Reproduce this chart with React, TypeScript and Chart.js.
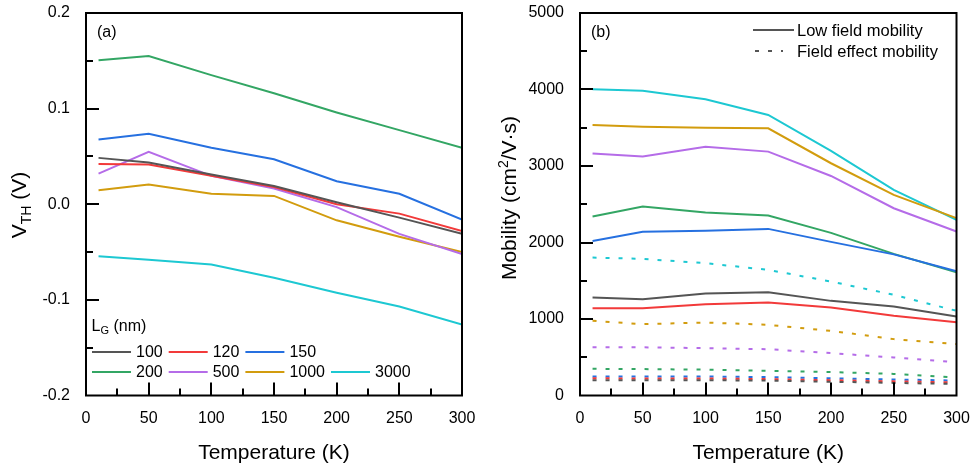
import React, { useEffect, useRef } from "react";
import { Chart, registerables } from "chart.js";

Chart.register(...registerables);

// ---------- data ----------
const temps = [10, 50, 100, 150, 200, 250, 300];
const gateLengths = ["100", "120", "150", "200", "500", "1000", "3000"];
const seriesColors = ["#555555", "#F23A3A", "#2670E0", "#33A664", "#B56CE8", "#D29C0E", "#1DC8D2"];

const vth100 = [0.0485, 0.0437, 0.031, 0.019, 0.002, -0.014, -0.031];
const vth120 = [0.042, 0.0415, 0.0297, 0.018, 0.0, -0.0098, -0.028];
const vth150 = [0.0677, 0.0736, 0.059, 0.047, 0.024, 0.011, -0.016];
const vth200 = [0.1505, 0.155, 0.135, 0.116, 0.096, 0.0775, 0.059];
const vth500 = [0.032, 0.0548, 0.0297, 0.0164, -0.003, -0.031, -0.052];
const vth1000 = [0.0147, 0.0206, 0.011, 0.0087, -0.0168, -0.034, -0.05];
const vth3000 = [-0.0545, -0.058, -0.063, -0.0768, -0.0925, -0.107, -0.1257];

const lowField100 = [1281, 1259, 1333, 1351, 1237, 1163, 1032];
const lowField120 = [1142, 1142, 1194, 1215, 1150, 1041, 959];
const lowField150 = [2021, 2139, 2152, 2178, 2008, 1845, 1625];
const lowField200 = [2339, 2469, 2391, 2352, 2126, 1851, 1612];
const lowField500 = [3162, 3123, 3253, 3188, 2870, 2448, 2143];
const lowField1000 = [3537, 3514, 3501, 3493, 3036, 2622, 2318];
const lowField3000 = [4003, 3985, 3872, 3667, 3197, 2687, 2296];

const fieldEff100 = [200, 200, 200, 195, 180, 165, 150];
const fieldEff120 = [225, 222, 222, 215, 200, 185, 172];
const fieldEff150 = [250, 248, 248, 240, 225, 210, 195];
const fieldEff200 = [349, 345, 338, 323, 306, 282, 235];
const fieldEff500 = [632, 630, 619, 605, 554, 497, 436];
const fieldEff1000 = [976, 933, 954, 924, 845, 737, 672];
const fieldEff3000 = [1803, 1786, 1730, 1642, 1490, 1316, 1107];

const xTickLabels = ["0", "50", "100", "150", "200", "250", "300"];
const vthTickLabels = ["-0.2", "-0.1", "0.0", "0.1", "0.2"];
const mobilityTickLabels = ["0", "1000", "2000", "3000", "4000", "5000"];

const vthSeries = [vth100, vth120, vth150, vth200, vth500, vth1000, vth3000];
const lowFieldSeries = [lowField100, lowField120, lowField150, lowField200, lowField500, lowField1000, lowField3000];
const fieldEffSeries = [fieldEff100, fieldEff120, fieldEff150, fieldEff200, fieldEff500, fieldEff1000, fieldEff3000];

const FONT = '"Liberation Sans", Arial, sans-serif';

type Part = { t: string; size: number; dy?: number };

function drawParts(ctx: CanvasRenderingContext2D, parts: Part[], x: number, y: number, align: "left" | "center") {
  let total = 0;
  for (const p of parts) {
    ctx.font = `${p.size}px ${FONT}`;
    total += ctx.measureText(p.t).width;
  }
  let cx = align === "center" ? x - total / 2 : x;
  ctx.textAlign = "left";
  for (const p of parts) {
    ctx.font = `${p.size}px ${FONT}`;
    ctx.fillText(p.t, cx, y + (p.dy || 0));
    cx += ctx.measureText(p.t).width;
  }
}

type PanelCfg = {
  xMajor: number;
  xMinor: number;
  yMin: number;
  yMax: number;
  yMajor: number;
  yMinor: number;
  yTickLabels: string[];
  yTitle: Part[];
  yTitleCenter: number;
  panelLabel: string;
  legend: "a" | "b";
};

function makePlugin(cfg: PanelCfg) {
  return {
    id: "decor" + cfg.panelLabel,
    afterDraw(chart: any) {
      const ctx: CanvasRenderingContext2D = chart.ctx;
      const a = chart.chartArea;
      const xs = chart.scales.x;
      const ys = chart.scales.y;
      ctx.save();
      ctx.strokeStyle = "#000";
      ctx.fillStyle = "#000";
      ctx.lineWidth = 2;
      // ticks x
      for (let v = 0; v <= 300 + 1e-9; v += cfg.xMinor) {
        const px = Math.round(xs.getPixelForValue(v));
        if (Math.abs(px - a.left) < 2 || Math.abs(px - a.right) < 2) continue;
        const major = Math.abs(v / cfg.xMajor - Math.round(v / cfg.xMajor)) < 1e-6;
        const len = major ? 13 : 7;
        ctx.beginPath();
        ctx.moveTo(px, a.bottom);
        ctx.lineTo(px, a.bottom - len);
        ctx.stroke();
      }
      // ticks y
      const nMinor = Math.round((cfg.yMax - cfg.yMin) / cfg.yMinor);
      for (let i = 0; i <= nMinor; i++) {
        const v = cfg.yMin + i * cfg.yMinor;
        const py = Math.round(ys.getPixelForValue(v));
        if (Math.abs(py - a.top) < 2 || Math.abs(py - a.bottom) < 2) continue;
        const major = i % Math.round(cfg.yMajor / cfg.yMinor) === 0;
        const len = major ? 13 : 7;
        ctx.beginPath();
        ctx.moveTo(a.left, py);
        ctx.lineTo(a.left + len, py);
        ctx.stroke();
      }
      // box
      ctx.strokeRect(a.left, a.top, a.right - a.left, a.bottom - a.top);

      // tick labels
      ctx.font = `16px ${FONT}`;
      ctx.textBaseline = "middle";
      ctx.textAlign = "center";
      xTickLabels.forEach((lab) => {
        const px = xs.getPixelForValue(Number(lab));
        ctx.fillText(lab, px, a.bottom + 23);
      });
      ctx.textAlign = "right";
      cfg.yTickLabels.forEach((lab) => {
        const py = ys.getPixelForValue(Number(lab));
        ctx.fillText(lab, a.left - 16, py);
      });

      // x title
      ctx.textBaseline = "alphabetic";
      ctx.textAlign = "center";
      ctx.font = `21px ${FONT}`;
      ctx.fillText("Temperature (K)", (a.left + a.right) / 2, 459);

      // y title
      ctx.save();
      ctx.translate(25.5, cfg.yTitleCenter);
      ctx.rotate(-Math.PI / 2);
      drawParts(ctx, cfg.yTitle, 0, 0, "center");
      ctx.restore();

      // panel label
      ctx.font = `16px ${FONT}`;
      ctx.textAlign = "left";
      ctx.textBaseline = "middle";
      ctx.fillText(cfg.panelLabel, a.left + 11, 33);

      if (cfg.legend === "a") {
        ctx.textBaseline = "middle";
        drawParts(
          ctx,
          [
            { t: "L", size: 16 },
            { t: "G", size: 11, dy: 4 },
            { t: " (nm)", size: 16 },
          ],
          a.left + 5.5,
          327,
          "left"
        );
        const rows = [
          [0, 1, 2],
          [3, 4, 5, 6],
        ];
        const rowY = [352, 372];
        ctx.font = `16px ${FONT}`;
        rows.forEach((r, ri) => {
          let x = a.left + 6;
          r.forEach((si) => {
            ctx.strokeStyle = seriesColors[si];
            ctx.lineWidth = 2;
            ctx.beginPath();
            ctx.moveTo(x, rowY[ri]);
            ctx.lineTo(x + 39, rowY[ri]);
            ctx.stroke();
            x += 39 + 5;
            ctx.fillStyle = "#000";
            ctx.textAlign = "left";
            ctx.fillText(gateLengths[si], x, rowY[ri] + 1);
            x += ctx.measureText(gateLengths[si]).width + 6;
          });
        });
      } else {
        const lx = a.right - 203.5;
        ctx.strokeStyle = "#555555";
        ctx.lineWidth = 2;
        ctx.beginPath();
        ctx.moveTo(lx, 30);
        ctx.lineTo(lx + 41, 30);
        ctx.stroke();
        ctx.setLineDash([4, 9]);
        ctx.beginPath();
        ctx.moveTo(lx + 2, 51);
        ctx.lineTo(lx + 30, 51);
        ctx.stroke();
        ctx.setLineDash([]);
        ctx.fillStyle = "#000";
        ctx.font = `16.5px ${FONT}`;
        ctx.textAlign = "left";
        ctx.textBaseline = "middle";
        ctx.fillText("Low field mobility", lx + 44, 31);
        ctx.fillText("Field effect mobility", lx + 44, 52);
      }
      ctx.restore();
    },
  };
}

function makeLine(data: number[], color: string, dashed: boolean) {
  return {
    data: temps.map((t, i) => ({ x: t, y: data[i] })),
    borderColor: color,
    backgroundColor: color,
    borderWidth: 2,
    borderDash: dashed ? [4, 9] : [],
    pointRadius: 0,
    tension: 0,
    fill: false,
  };
}

function baseOptions(yMin: number, yMax: number, padding: any) {
  return {
    responsive: false,
    animation: false as const,
    devicePixelRatio: 1,
    layout: { padding },
    plugins: { legend: { display: false }, tooltip: { enabled: false } },
    scales: {
      x: { type: "linear" as const, min: 0, max: 300, display: false },
      y: { type: "linear" as const, min: yMin, max: yMax, display: false },
    },
  };
}

function Panel(props: { kind: "a" | "b"; width: number }) {
  const ref = useRef<HTMLCanvasElement | null>(null);
  useEffect(() => {
    if (!ref.current) return;
    let chart: Chart;
    if (props.kind === "a") {
      const cfg: PanelCfg = {
        xMajor: 50,
        xMinor: 25,
        yMin: -0.2,
        yMax: 0.2,
        yMajor: 0.1,
        yMinor: 0.05,
        yTickLabels: vthTickLabels,
        yTitle: [
          { t: "V", size: 21 },
          { t: "TH", size: 14, dy: 5 },
          { t: " (V)", size: 21 },
        ],
        yTitleCenter: 205,
        panelLabel: "(a)",
        legend: "a",
      };
      chart = new Chart(ref.current, {
        type: "line",
        data: {
          datasets: vthSeries.map((s, i) => makeLine(s, seriesColors[i], false)),
        },
        options: baseOptions(-0.2, 0.2, { left: 86, right: 28, top: 13, bottom: 74.5 }) as any,
        plugins: [makePlugin(cfg)],
      });
    } else {
      const cfg: PanelCfg = {
        xMajor: 50,
        xMinor: 25,
        yMin: 0,
        yMax: 5000,
        yMajor: 1000,
        yMinor: 500,
        yTickLabels: mobilityTickLabels,
        yTitle: [
          { t: "Mobility (cm", size: 21 },
          { t: "2", size: 14, dy: -8 },
          { t: "/V\u00B7s)", size: 21 },
        ],
        yTitleCenter: 198,
        panelLabel: "(b)",
        legend: "b",
      };
      const ds = [
        ...fieldEffSeries.map((s, i) => makeLine(s, seriesColors[i], true)),
        ...lowFieldSeries.map((s, i) => makeLine(s, seriesColors[i], false)),
      ];
      chart = new Chart(ref.current, {
        type: "line",
        data: { datasets: ds },
        options: baseOptions(0, 5000, { left: 90, right: 20.5, top: 13, bottom: 74.5 }) as any,
        plugins: [makePlugin(cfg)],
      });
    }
    return () => chart.destroy();
  }, [props.kind]);
  return (
    <canvas
      ref={ref}
      width={props.width}
      height={470}
      style={{ display: "block", width: props.width, height: 470 }}
    />
  );
}

export default function App() {
  return (
    <div
      style={{
        position: "absolute",
        left: 0,
        top: 0,
        width: 977,
        height: 470,
        background: "#fff",
        display: "flex",
      }}
    >
      <Panel kind="a" width={490} />
      <Panel kind="b" width={487} />
    </div>
  );
}
